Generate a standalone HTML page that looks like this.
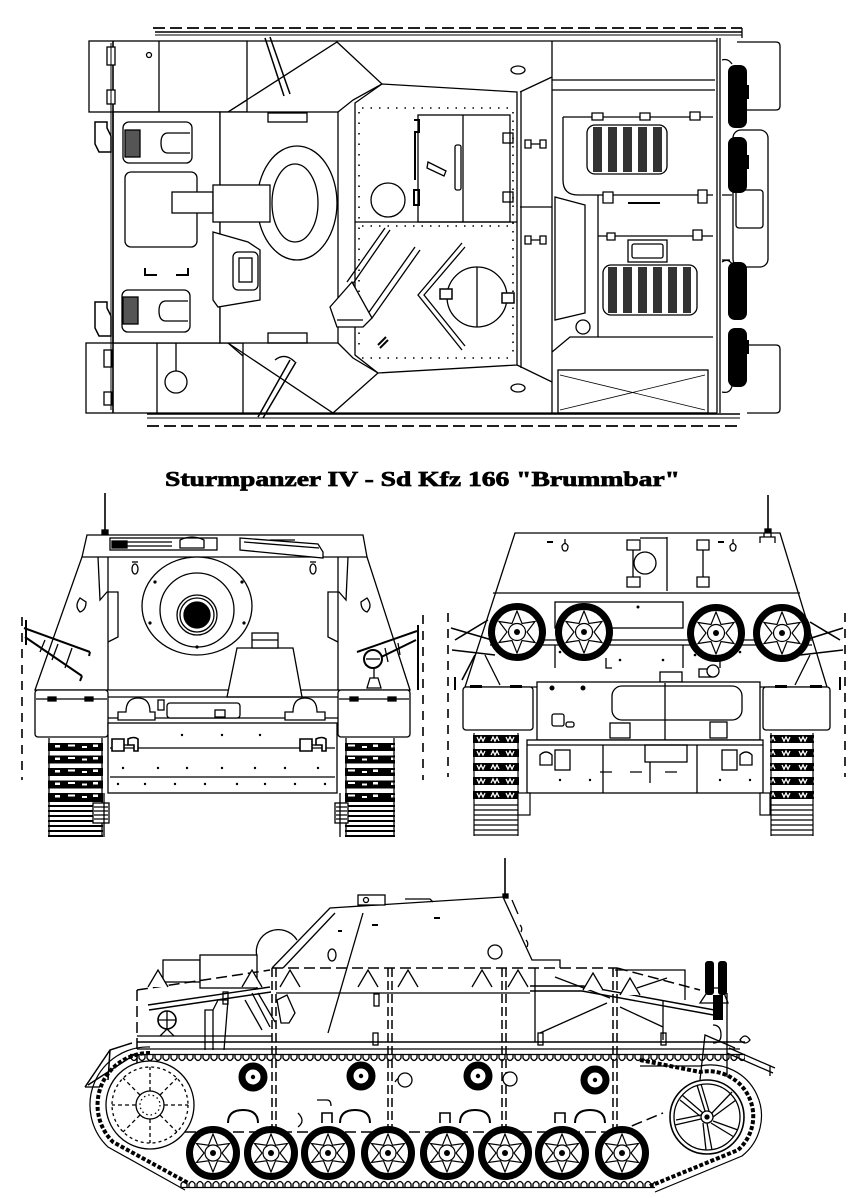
<!DOCTYPE html>
<html><head><meta charset="utf-8"><style>html,body{margin:0;padding:0;background:#fff;width:868px;height:1198px;overflow:hidden}svg{display:block}</style></head><body>
<svg width="868" height="1198" viewBox="0 0 868 1198" xmlns="http://www.w3.org/2000/svg">
<defs>
<g id="rw">
 <circle r="23.5" fill="#fff" stroke="#000" stroke-width="7"/>
 <polygon points="0,-19 4.5,-7.8 16.5,-9.5 9,0 16.5,9.5 4.5,7.8 0,19 -4.5,7.8 -16.5,9.5 -9,0 -16.5,-9.5 -4.5,-7.8" fill="none" stroke="#000" stroke-width="1.2"/>
 <circle r="8" fill="#fff" stroke="#000" stroke-width="1.2"/>
 <circle r="3" fill="#000"/>
</g>
<g id="sw">
 <circle r="25.5" fill="#fff" stroke="#000" stroke-width="7"/>
 <polygon points="0,-21 5,-8.5 18,-10.5 10,0 18,10.5 5,8.5 0,21 -5,8.5 -18,10.5 -10,0 -18,-10.5 -5,-8.5" fill="none" stroke="#000" stroke-width="1.2"/>
 <circle r="8.5" fill="#fff" stroke="#000" stroke-width="1.2"/>
 <circle r="3" fill="#000"/>
</g>
<g id="rr">
 <circle r="11" fill="#fff" stroke="#000" stroke-width="7"/>
 <circle r="2.2" fill="#000"/>
</g>
<pattern id="tt" width="8" height="12" patternUnits="userSpaceOnUse" x="130" y="1053">
 <path d="M0,1.5 H8 M1,1.5 V5 Q4,10 7,5 V1.5" stroke="#000" stroke-width="1.3" fill="none"/>
</pattern>
<pattern id="tb" width="8" height="12" patternUnits="userSpaceOnUse" x="180" y="1177">
 <path d="M0,10.5 H8 M1,10.5 V7 Q4,2 7,7 V10.5" stroke="#000" stroke-width="1.3" fill="none"/>
</pattern>
<pattern id="fth" width="56" height="12.5" patternUnits="userSpaceOnUse" x="48" y="743">
 <rect x="0" y="0" width="56" height="8" fill="#000"/>
 <rect x="7" y="2" width="5" height="2.5" fill="#fff"/>
 <rect x="20" y="1.5" width="7" height="2" fill="#fff"/>
 <rect x="34" y="3" width="5" height="2" fill="#fff"/>
 <rect x="45" y="1.5" width="5" height="2.5" fill="#fff"/>
</pattern>
<pattern id="ftl" width="56" height="5" patternUnits="userSpaceOnUse" x="48" y="800">
 <rect x="0" y="0" width="56" height="2" fill="#000"/>
</pattern>
<pattern id="rth" width="46" height="14" patternUnits="userSpaceOnUse" x="473" y="735">
 <rect x="0" y="0" width="46" height="8" fill="#000"/>
 <path d="M4,2 l2,4 l2,-4 l2,4 l2,-4 M18,6 l2,-4 l2,4 l2,-4 l2,4 M33,2 l2,4 l2,-4 l2,4 l2,-4" stroke="#fff" stroke-width="1.3" fill="none"/>
</pattern>
</defs>

<!-- ================= TOP VIEW ================= -->
<g fill="none" stroke="#000" stroke-width="1.3">
 <line x1="153" y1="28" x2="742" y2="28" stroke-dasharray="12 5" stroke-width="1.8"/>
 <line x1="155" y1="32" x2="742" y2="32" stroke-width="1.4"/>
 <line x1="155" y1="35" x2="742" y2="35" stroke-width="1"/>
 <line x1="742" y1="28" x2="742" y2="38"/>
 <line x1="147" y1="414" x2="740" y2="414" stroke-width="1.4"/>
 <line x1="147" y1="418" x2="740" y2="418" stroke-width="1"/>
 <line x1="147" y1="426" x2="740" y2="426" stroke-dasharray="12 5" stroke-width="1.8"/>
 <rect x="89" y="41" width="158" height="71" fill="#fff"/>
 <line x1="159" y1="41" x2="159" y2="112"/>
 <rect x="86" y="343" width="157" height="70" fill="#fff"/>
 <line x1="157" y1="343" x2="157" y2="413"/>
 <circle cx="149" cy="55" r="2.5"/>
 <line x1="247" y1="41" x2="717" y2="41"/>
 <line x1="243" y1="413" x2="717" y2="413"/>
 <line x1="717" y1="38" x2="717" y2="413"/>
 <line x1="720" y1="38" x2="720" y2="413"/>
 <rect x="113" y="112" width="107" height="231" fill="#fff"/>
 <rect x="220" y="112" width="118" height="231" fill="#fff"/>
 <line x1="113" y1="41" x2="113" y2="413" stroke-width="1.6"/>
 <polyline points="228,112 337,42 382,84 353,100 338,112"/>
 <line x1="247" y1="100" x2="228" y2="112"/>
 <polyline points="228,343 333,413 378,373 353,358 338,343"/>
 <line x1="243" y1="356" x2="228" y2="343"/>
 <polygon points="355,103 382,84 517,92 517,365 378,373 355,355" fill="#fff"/>
 <line x1="355" y1="222" x2="517" y2="222"/>
 <line x1="521" y1="92" x2="521" y2="368"/>
 <line x1="520" y1="92" x2="552" y2="77"/>
 <line x1="520" y1="207" x2="552" y2="207"/>
 <line x1="517" y1="365" x2="552" y2="382"/>
 <line x1="552" y1="41" x2="552" y2="413"/>
 <line x1="362" y1="108" x2="512" y2="108" stroke-dasharray="1.5 7" stroke-width="1.6"/>
 <line x1="362" y1="226" x2="512" y2="226" stroke-dasharray="1.5 7" stroke-width="1.6"/>
 <line x1="362" y1="358" x2="512" y2="358" stroke-dasharray="1.5 7" stroke-width="1.6"/>
 <line x1="513" y1="112" x2="513" y2="355" stroke-dasharray="1.5 7" stroke-width="1.6"/>
 <line x1="359" y1="112" x2="359" y2="350" stroke-dasharray="1.5 9" stroke-width="1.6"/>
 <rect x="418" y="115" width="92" height="107"/>
 <line x1="463" y1="115" x2="463" y2="222"/>
 <rect x="455" y="145" width="6" height="45" rx="2"/>
 <path d="M414,120 h5 v12 h-4 v10 M415,140 v40 M414,190 h5 v15 h-5 z" stroke-width="2"/>
 <rect x="503" y="133" width="10" height="10"/>
 <rect x="503" y="192" width="10" height="10"/>
 <polygon points="428,162 446,171 444,176 427,168"/>
 <circle cx="388" cy="200" r="17"/>
 <circle cx="477" cy="297" r="30"/>
 <line x1="477" y1="267" x2="477" y2="327"/>
 <polyline points="462,243 418,295 462,350" stroke-width="1.3"/>
 <polyline points="465,247 424,295 465,346" stroke-width="1.3"/>
 <rect x="440" y="289" width="12" height="10" fill="#fff" stroke-width="1.5"/>
 <rect x="502" y="293" width="12" height="10" fill="#fff" stroke-width="1.5"/>
 <path d="M385,228 L347,282 M390,230 L352,285 M415,247 L367,315 M420,250 L372,318"/>
 <polygon points="330,307 352,282 372,318 363,327 337,327" fill="#fff"/>
 <line x1="337" y1="320" x2="363" y2="320"/>
 <path d="M378,345 l8,-8 M380,348 l8,-8" stroke-width="2"/>
 <path d="M525,140 h6 v8 h-6z M540,140 h6 v8 h-6z M531,144 h9 M525,236 h6 v8 h-6z M540,236 h6 v8 h-6z M531,240 h9" fill="#fff"/>
 <ellipse cx="518" cy="70" rx="7" ry="4"/>
 <ellipse cx="518" cy="388" rx="7" ry="4"/>
 <rect x="123" y="122" width="69" height="41" rx="6"/>
 <path d="M190,133 h-22 q-7,0 -7,10 q0,10 7,10 h22"/>
 <rect x="125" y="130" width="15" height="27" fill="#555"/>
 <rect x="122" y="290" width="68" height="42" rx="6"/>
 <path d="M188,301 h-22 q-7,0 -7,10 q0,10 7,10 h22"/>
 <rect x="123" y="297" width="15" height="27" fill="#555"/>
 <rect x="125" y="172" width="72" height="75" rx="6"/>
 <path d="M145,268 v7 h12 M176,275 h12 v-7" stroke-width="2"/>
 <ellipse cx="297" cy="203" rx="40" ry="57" fill="#fff"/>
 <ellipse cx="295" cy="203" rx="23" ry="39" fill="#fff"/>
 <rect x="172" y="192" width="41" height="21" fill="#fff"/>
 <rect x="213" y="185" width="57" height="37" fill="#fff"/>
 <polygon points="213,232 248,242 260,250 260,300 218,307 213,300" fill="#fff"/>
 <rect x="233" y="252" width="25" height="38" rx="5"/>
 <rect x="239" y="258" width="13" height="24"/>
 <rect x="268" y="113" width="39" height="9"/>
 <rect x="268" y="333" width="39" height="10"/>
 <path d="M265,38 L284,96 M270,37 L290,94" stroke-width="1.5"/>
 <path d="M258,417 L290,360 M263,418 L296,362" stroke-width="1.5"/>
 <path d="M275,360 q10,-8 20,2" />
 <path d="M95,122 h12 v6 l4,8 v16 h-12 l-4,-8z" fill="#fff" stroke-width="1.5"/>
 <path d="M95,302 h12 v6 l4,8 v20 h-12 l-4,-8z" fill="#fff" stroke-width="1.5"/>
 <rect x="107" y="47" width="8" height="18" fill="#fff"/>
 <rect x="107" y="90" width="8" height="14" fill="#fff"/>
 <rect x="104" y="350" width="8" height="17" fill="#fff"/>
 <rect x="104" y="392" width="8" height="13" fill="#fff"/>
 <line x1="111" y1="43" x2="111" y2="410" stroke-width="1"/>
 <circle cx="176" cy="382" r="11" fill="#fff"/>
 <line x1="176" y1="343" x2="176" y2="371"/>
 <line x1="552" y1="80" x2="715" y2="80"/>
 <line x1="552" y1="90" x2="715" y2="90"/>
 <path d="M563,117 H713 M563,117 V180 Q563,195 578,195 H713"/>
 <line x1="598" y1="195" x2="598" y2="337"/>
 <line x1="598" y1="236" x2="713" y2="236"/>
 <polygon points="555,197 585,205 585,313 555,320"/>
 <path d="M552,352 L570,337 H713"/>
 <rect x="558" y="370" width="150" height="43"/>
 <path d="M560,375 L705,410 M560,410 L705,375" stroke-width="0.8"/>
 <circle cx="583" cy="327" r="7"/>
 <path d="M592,113 h11 v7 h-11z M640,113 h10 v7 h-10z M690,112 h10 v8 h-10z M603,192 h10 v11 h-10z M698,190 h9 v13 h-9z M607,233 h8 v7 h-8z M693,230 h9 v10 h-9z" fill="#fff"/>
 <rect x="628" y="240" width="39" height="22"/>
 <rect x="632" y="244" width="31" height="14" rx="2"/>
 <line x1="628" y1="203" x2="660" y2="203" stroke-width="2"/>
 <rect x="587" y="125" width="80" height="49" rx="8" fill="#fff"/>
 <rect x="603" y="265" width="94" height="50" rx="8" fill="#fff"/>
</g>
<g fill="#333">
 <rect x="593" y="127" width="9" height="45"/><rect x="608" y="127" width="9" height="45"/><rect x="623" y="127" width="9" height="45"/><rect x="638" y="127" width="9" height="45"/><rect x="653" y="127" width="9" height="45"/>
 <rect x="608" y="267" width="9" height="46"/><rect x="623" y="267" width="9" height="46"/><rect x="638" y="267" width="9" height="46"/><rect x="653" y="267" width="9" height="46"/><rect x="668" y="267" width="9" height="46"/><rect x="683" y="267" width="8" height="46"/>
</g>
<g fill="none" stroke="#000" stroke-width="1.3">
 <path d="M737,42 H776 q4,0 4,4 V106 q0,4 -4,4 H737"/>
 <path d="M747,345 H776 q4,0 4,4 V409 q0,4 -4,4 H747"/>
 <rect x="733" y="130" width="35" height="137" rx="8" fill="#fff"/>
 <rect x="736" y="190" width="27" height="38" rx="3"/>
 <path d="M722,60 q6,-2 10,4 M722,262 q6,-4 10,2 M722,392 q8,2 10,-6 M722,195 h10 M722,260 h8"/>
</g>
<g fill="#000">
 <rect x="728" y="65" width="19" height="63" rx="7"/>
 <rect x="728" y="137" width="19" height="56" rx="7"/>
 <rect x="728" y="262" width="19" height="58" rx="7"/>
 <rect x="728" y="328" width="19" height="59" rx="7"/>
 <rect x="745" y="85" width="4" height="14"/>
 <rect x="745" y="155" width="4" height="14"/>
 <rect x="745" y="340" width="4" height="14"/>
</g>

<!-- ================= TITLE ================= -->
<text x="165" y="486" font-family="'Liberation Serif', serif" font-weight="bold" font-size="21" textLength="515" lengthAdjust="spacingAndGlyphs" fill="#000" stroke="#000" stroke-width="0.7">Sturmpanzer  IV - Sd Kfz 166 "Brummbar"</text>

<!-- ================= FRONT VIEW ================= -->
<g fill="none" stroke="#000" stroke-width="1.3">
 <line x1="105" y1="493" x2="105" y2="533" stroke-width="1.6"/>
 <rect x="102" y="530" width="6" height="5" fill="#000"/>
 <polygon points="87,535 363,535 367,557 410,690 35,690 82,557" fill="#fff"/>
 <line x1="82" y1="557" x2="367" y2="557"/>
 <line x1="108" y1="557" x2="108" y2="690"/>
 <line x1="338" y1="557" x2="338" y2="690"/>
 <polyline points="98,557 100,600 107,592 118,592 118,637 108,642"/>
 <polyline points="348,557 346,600 339,592 328,592 328,637 338,642"/>
 <rect x="110" y="538" width="107" height="12" fill="#fff"/>
 <path d="M112,542 h60 M112,546 h60 M180,540 q12,-6 24,0 v8 h-24z" />
 <rect x="112" y="541" width="15" height="7" fill="#000"/>
 <polygon points="240,538 318,544 323,552 323,558 240,550" fill="#fff"/>
 <path d="M244,542 l75,6 M270,540 h25"/>
 <path d="M80,598 q-6,8 0,14 q6,-2 6,-10z"/>
 <path d="M367,598 q6,8 0,14 q-6,-2 -6,-10z"/>
 <ellipse cx="135" cy="569" rx="3" ry="5"/>
 <ellipse cx="313" cy="569" rx="3" ry="5"/>
 <line x1="132" y1="562" x2="138" y2="562"/>
 <line x1="310" y1="562" x2="316" y2="562"/>
 <ellipse cx="197" cy="606" rx="55" ry="49" fill="#fff"/>
 <circle cx="197" cy="610" r="37" fill="#fff"/>
 <circle cx="197" cy="615" r="20" fill="#fff"/>
 <circle cx="197" cy="615" r="17" fill="#fff"/>
 <circle cx="197" cy="615" r="13" fill="#000"/>
 <polygon points="237,648 293,648 302,697 227,697" fill="#fff"/>
 <rect x="252" y="633" width="26" height="15" fill="#fff"/>
 <line x1="252" y1="640" x2="278" y2="640"/>
 <rect x="35" y="690" width="73" height="47" rx="3" fill="#fff"/>
 <rect x="338" y="690" width="72" height="47" rx="3" fill="#fff"/>
 <line x1="108" y1="697" x2="338" y2="697"/>
 <line x1="108" y1="718" x2="338" y2="718"/>
 <rect x="108" y="723" width="229" height="70" fill="#fff"/>
 <line x1="110" y1="748" x2="335" y2="748"/>
 <line x1="110" y1="777" x2="335" y2="777"/>
 <line x1="36" y1="699" x2="107" y2="699"/>
 <line x1="339" y1="699" x2="409" y2="699"/>
 <path d="M48,697 h8 v4 h-8z M85,697 h8 v4 h-8z M350,697 h8 v4 h-8z M388,697 h8 v4 h-8z" fill="#000"/>
 <path d="M118,712 h8 q0,-14 12,-14 q12,0 12,14 h5 v8 h-37z" fill="#fff"/>
 <path d="M285,712 h8 q0,-14 12,-14 q12,0 12,14 h8 v8 h-40z" fill="#fff"/>
 <rect x="167" y="703" width="73" height="15" rx="3" fill="#fff"/>
 <rect x="158" y="700" width="6" height="10"/>
 <rect x="215" y="710" width="10" height="7" fill="#fff"/>
 <path d="M112,739 h12 v12 h-12z M128,739 q6,-3 10,0 v12 h-4 v-6 h-6z" fill="#fff" stroke-width="1.6"/>
 <path d="M300,739 h12 v12 h-12z M316,739 q6,-3 10,0 v12 h-4 v-6 h-6z" fill="#fff" stroke-width="1.6"/>
 <line x1="124" y1="745" x2="128" y2="745"/>
 <line x1="312" y1="745" x2="316" y2="745"/>
 <path d="M24,628 L90,652 M25,637 L82,676 M82,676 l-2,5 M90,652 l-1,4" stroke-width="2"/>
 <path d="M45,640 l-5,12 M58,644 l-6,16 M72,648 l-7,20"/>
 <line x1="26" y1="620" x2="26" y2="645" stroke-width="2"/>
 <path d="M357,652 L417,631 M365,665 L416,640" stroke-width="2"/>
 <path d="M385,648 l3,14 M398,643 l2,12"/>
 <circle cx="373" cy="659" r="9" fill="#fff" stroke-width="2"/>
 <line x1="366" y1="659" x2="380" y2="659"/>
 <path d="M370,678 h8 l3,10 h-14z" fill="#fff"/>
 <line x1="374" y1="668" x2="374" y2="678"/>
 <line x1="418" y1="625" x2="418" y2="690" stroke-width="2"/>
 <line x1="22" y1="617" x2="22" y2="780" stroke-dasharray="9 7" stroke-width="1.6"/>
 <line x1="423" y1="615" x2="423" y2="780" stroke-dasharray="9 7" stroke-width="1.6"/>
</g>
<g fill="#000">
 <circle cx="155" cy="582" r="1.6"/><circle cx="242" cy="582" r="1.6"/><circle cx="150" cy="623" r="1.6"/><circle cx="244" cy="623" r="1.6"/><circle cx="197" cy="647" r="1.6"/>
 <circle cx="182" cy="735" r="1.2"/><circle cx="222" cy="735" r="1.2"/><circle cx="260" cy="735" r="1.2"/>
 <circle cx="123" cy="768" r="1.2"/><circle cx="158" cy="768" r="1.2"/><circle cx="187" cy="768" r="1.2"/><circle cx="222" cy="768" r="1.2"/><circle cx="255" cy="768" r="1.2"/><circle cx="285" cy="768" r="1.2"/><circle cx="318" cy="768" r="1.2"/>
 <circle cx="118" cy="784" r="1.2"/><circle cx="145" cy="784" r="1.2"/><circle cx="175" cy="784" r="1.2"/><circle cx="205" cy="784" r="1.2"/><circle cx="237" cy="784" r="1.2"/><circle cx="265" cy="784" r="1.2"/><circle cx="295" cy="784" r="1.2"/><circle cx="325" cy="784" r="1.2"/>
</g>
<rect x="48" y="743" width="55" height="57" fill="url(#fth)"/>
<rect x="48" y="800" width="55" height="37" fill="url(#ftl)"/>
<rect x="345" y="743" width="50" height="57" fill="url(#fth)"/>
<rect x="345" y="800" width="50" height="37" fill="url(#ftl)"/>
<g fill="none" stroke="#000" stroke-width="1.3">
 <line x1="49" y1="738" x2="49" y2="837"/><line x1="102" y1="738" x2="102" y2="837"/>
 <line x1="346" y1="738" x2="346" y2="837"/><line x1="394" y1="738" x2="394" y2="837"/>
 <rect x="93" y="803" width="16" height="20" fill="#fff"/>
 <path d="M94,807 h14 M94,811 h14 M94,815 h14 M94,819 h14"/>
 <rect x="335" y="803" width="13" height="20" fill="#fff"/>
 <path d="M336,807 h11 M336,811 h11 M336,815 h11 M336,819 h11"/>
 <line x1="104" y1="793" x2="104" y2="837"/>
 <line x1="340" y1="793" x2="340" y2="837"/>
</g>

<!-- ================= REAR VIEW ================= -->
<g fill="none" stroke="#000" stroke-width="1.3">
 <line x1="768" y1="495" x2="768" y2="532" stroke-width="1.6"/>
 <rect x="765" y="529" width="6" height="5" fill="#000"/>
 <polygon points="515,533 780,533 827,687 465,687" fill="#fff"/>
 <line x1="493" y1="593" x2="800" y2="593"/>
 <line x1="667" y1="537" x2="667" y2="591"/>
 <circle cx="645" cy="563" r="11"/>
 <path d="M627,540 h13 v10 h-13z M627,577 h13 v10 h-13z M697,540 h12 v10 h-12z M697,577 h12 v10 h-12z" fill="#fff"/>
 <line x1="633" y1="550" x2="633" y2="577"/><line x1="703" y1="550" x2="703" y2="577"/>
 <line x1="640" y1="538" x2="667" y2="538"/>
 <path d="M565,539 v4 M562,546 q3,-5 6,0 q0,5 -3,5 q-3,0 -3,-5z M733,539 v4 M730,546 q3,-5 6,0 q0,5 -3,5 q-3,0 -3,-5z"/>
 <path d="M553,542 h-6 M718,542 h6" stroke-width="2"/>
 <path d="M760,543 v-6 h15 v6 M764,537 v-4 M771,537 v-4" />
 <rect x="555" y="602" width="128" height="26"/>
 <line x1="490" y1="640" x2="812" y2="640"/>
 <line x1="490" y1="645" x2="812" y2="645"/>
 <path d="M555,645 v23 M683,645 v23 M612,668 h-6 v-10 M720,668 v-10"/>
 <rect x="699" y="669" width="14" height="8"/>
 <circle cx="713" cy="671" r="6" fill="#fff"/>
 <rect x="660" y="672" width="22" height="10"/>
 <path d="M485,655 L500,685 M810,655 L795,685"/>
 <rect x="463" y="687" width="70" height="43" rx="3" fill="#fff"/>
 <rect x="763" y="687" width="67" height="43" rx="3" fill="#fff"/>
 <rect x="537" y="682" width="223" height="58" fill="#fff"/>
 <rect x="612" y="686" width="130" height="34" rx="10" fill="#fff"/>
 <line x1="665" y1="683" x2="665" y2="740"/>
 <rect x="610" y="723" width="20" height="15" fill="#fff"/>
 <rect x="710" y="722" width="17" height="16" fill="#fff"/>
 <rect x="552" y="714" width="12" height="12" rx="2" fill="#fff"/>
 <rect x="566" y="722" width="8" height="5" rx="2"/>
 <rect x="527" y="740" width="236" height="53" fill="#fff"/>
 <line x1="527" y1="745" x2="763" y2="745"/>
 <line x1="603" y1="745" x2="603" y2="793"/>
 <line x1="697" y1="745" x2="697" y2="793"/>
 <rect x="645" y="745" width="42" height="17"/>
 <line x1="650" y1="762" x2="650" y2="783"/>
 <path d="M600,772 h12 M630,772 h12 M665,772 h12"/>
 <rect x="555" y="750" width="15" height="20" fill="#fff"/>
 <rect x="722" y="750" width="15" height="20" fill="#fff"/>
 <path d="M540,755 q6,-6 12,0 v10 h-12z M740,755 q6,-6 12,0 v10 h-12z"/>
 <path d="M451,628 L492,640 M455,640 L488,620 M452,650 L495,655" stroke-width="1.6"/>
 <path d="M843,628 L805,640 M840,640 L810,622 M843,650 L800,655" stroke-width="1.6"/>
 <line x1="475" y1="655" x2="462" y2="680" stroke-width="1.6"/>
 <line x1="448" y1="613" x2="448" y2="777" stroke-dasharray="9 7" stroke-width="1.6"/>
 <line x1="845" y1="613" x2="845" y2="777" stroke-dasharray="9 7" stroke-width="1.6"/>
 <line x1="455" y1="677" x2="455" y2="690" stroke-width="2"/>
 <line x1="840" y1="677" x2="840" y2="690" stroke-width="2"/>
</g>
<g fill="#000">
 <circle cx="638" cy="607" r="1.5"/><circle cx="560" cy="652" r="1.3"/><circle cx="600" cy="652" r="1.3"/><circle cx="740" cy="652" r="1.3"/><circle cx="620" cy="660" r="1.3"/><circle cx="663" cy="660" r="1.3"/><circle cx="695" cy="655" r="1.3"/>
 <circle cx="552" cy="688" r="2.5"/><circle cx="583" cy="688" r="2.5"/>
 <circle cx="560" cy="780" r="1.2"/><circle cx="590" cy="780" r="1.2"/><circle cx="720" cy="780" r="1.2"/><circle cx="750" cy="780" r="1.2"/>
 <rect x="470" y="685" width="12" height="3"/><rect x="510" y="685" width="12" height="3"/><rect x="775" y="685" width="12" height="3"/><rect x="810" y="685" width="12" height="3"/>
</g>
<use href="#sw" x="517" y="632"/>
<use href="#sw" x="584" y="632"/>
<use href="#sw" x="716" y="633"/>
<use href="#sw" x="782" y="633"/>
<rect x="473" y="735" width="46" height="65" fill="url(#rth)"/>
<rect x="770" y="735" width="44" height="65" fill="url(#rth)"/>
<g fill="none" stroke="#000" stroke-width="1.2">
 <path d="M474,805 h44 M474,810 h44 M474,815 h44 M474,820 h44 M474,825 h44 M474,830 h44 M474,835 h44"/>
 <path d="M771,805 h42 M771,810 h42 M771,815 h42 M771,820 h42 M771,825 h42 M771,830 h42 M771,835 h42"/>
 <line x1="474" y1="733" x2="474" y2="836"/><line x1="518" y1="733" x2="518" y2="836"/>
 <line x1="771" y1="733" x2="771" y2="836"/><line x1="813" y1="733" x2="813" y2="836"/>
 <rect x="518" y="793" width="12" height="22" fill="#fff"/>
 <rect x="760" y="793" width="10" height="22" fill="#fff"/>
</g>

<!-- ================= SIDE VIEW ================= -->
<g fill="none" stroke="#000" stroke-width="1.3">
 <line x1="505" y1="858" x2="505" y2="897" stroke-width="1.6"/>
 <rect x="503" y="894" width="5" height="4" fill="#000"/>
 <path d="M272,968 L330,908 L503,897 L532,960 H560 V968" fill="#fff"/>
 <line x1="283" y1="968" x2="335" y2="913"/>
 <line x1="363" y1="913" x2="328" y2="1033"/>
 <rect x="358" y="895" width="27" height="10" fill="#fff"/>
 <circle cx="366" cy="900" r="2.5"/>
 <path d="M405,899 h25 l3,3" />
 <ellipse cx="332" cy="955" rx="4" ry="6"/>
 <line x1="338" y1="931" x2="342" y2="931" stroke-width="2"/>
 <line x1="372" y1="925" x2="378" y2="925" stroke-width="2"/>
 <line x1="434" y1="918" x2="440" y2="918" stroke-width="2"/>
 <path d="M512,900 l6,14 M520,925 q3,3 1,7 M526,940 q3,3 1,7"/>
 <circle cx="495" cy="952" r="7"/>
 <path d="M257,957 A22,22 0 0 1 297,940" fill="#fff"/>
 <rect x="163" y="960" width="37" height="22" fill="#fff"/>
 <rect x="200" y="955" width="57" height="33" fill="#fff"/>
 <line x1="272" y1="968" x2="617" y2="968" stroke-dasharray="11 5" stroke-width="1.5"/>
 <line x1="617" y1="968" x2="700" y2="990" stroke-dasharray="11 5" stroke-width="1.5"/>
 <line x1="137" y1="990" x2="270" y2="970" stroke-dasharray="11 5" stroke-width="1.5"/>
 <line x1="137" y1="990" x2="137" y2="1130" stroke-dasharray="11 5" stroke-width="1.5"/>
 <line x1="137" y1="1132" x2="617" y2="1132" stroke-dasharray="11 5" stroke-width="1.5"/>
 <line x1="617" y1="1132" x2="663" y2="1113" stroke-dasharray="11 5" stroke-width="1.5"/>
 <g stroke-dasharray="9 4" stroke-width="1.5">
  <line x1="272" y1="968" x2="272" y2="1133"/><line x1="276" y1="968" x2="276" y2="1133"/>
  <line x1="388" y1="968" x2="388" y2="1133"/><line x1="392" y1="968" x2="392" y2="1133"/>
  <line x1="502" y1="968" x2="502" y2="1133"/><line x1="506" y1="968" x2="506" y2="1133"/>
  <line x1="613" y1="968" x2="613" y2="1133"/><line x1="617" y1="968" x2="617" y2="1133"/>
 </g>
 <line x1="276" y1="993" x2="530" y2="993"/>
 <line x1="137" y1="1042" x2="745" y2="1042" stroke-width="1.5"/>
 <line x1="137" y1="1049" x2="740" y2="1049"/>
 <line x1="137" y1="1036" x2="272" y2="1036"/>
 <path d="M530,986 H583 L720,1011 M530,991 H582 L719,1016" stroke-width="1.4"/>
 <path d="M148,1005 L270,987 M149,1010 L271,992" stroke-width="1.4"/>
 <path d="M535,968 V1042 M615,970 H685 V1000 M540,1033 L607,1003 M555,977 L610,998 M620,1007 L663,1027 M637,988 L667,978 M663,1000 V1040"/>
 <path d="M148,987 l10,-17 l10,17 M242,987 l10,-17 l10,17 M280,987 l10,-17 l10,17 M358,987 l10,-17 l10,17 M398,987 l10,-17 l10,17 M472,987 l10,-17 l10,17 M508,987 l10,-17 l10,17 M583,990 l10,-17 l10,17 M620,995 l10,-17 l10,17" fill="#fff"/>
 <rect x="373" y="1033" width="5" height="12"/>
 <rect x="538" y="1033" width="5" height="12"/>
 <rect x="661" y="1033" width="5" height="12"/>
 <rect x="374" y="994" width="5" height="12"/>
 <rect x="223" y="992" width="5" height="12"/>
 <path d="M205,1050 V1010 h8 V1050 M213,1010 l5,-10 h10 l-4,50" />
 <path d="M252,993 L270,1027 M258,993 L275,1022 M245,1000 L262,1030"/>
 <path d="M277,1000 l10,-5 l8,18 l-6,10 h-8z" fill="#fff"/>
 <circle cx="167" cy="1020" r="9" fill="#fff" stroke-width="1.6"/>
 <path d="M158,1020 h18 M167,1011 v18"/>
 <path d="M160,1036 l7,-7 l7,7"/>
 <path d="M700,1003 l10,-15 h12 l6,15z" fill="#fff"/>
 <path d="M727,993 V1077 M740,1040 q5,-8 10,0 q-5,6 -10,0z M727,1053 L773,1073 M729,1048 L775,1068 M770,1066 v10" />
 <path d="M713,1025 q8,0 8,10 q0,8 -8,8"/>
 <path d="M735,1048 L705,1035 L700,1080"/>
 <path d="M85,1087 L110,1050 L132,1043 M88,1085 L137,1053 M110,1050 L108,1080" stroke-width="1.5"/>
 <path d="M85,1087 h15" />
 <path d="M228,1123 q0,-13 15,-13 q15,0 15,13 M340,1123 q0,-13 15,-13 q15,0 15,13 M460,1123 q0,-13 15,-13 q15,0 15,13 M575,1123 q0,-13 15,-13 q15,0 15,13" stroke-width="2"/>
 <path d="M322,1123 v-10 h10 v10 M440,1123 v-10 h10 v10 M555,1123 v-10 h10 v10" stroke-width="1.6"/>
 <path d="M298,1113 q8,8 0,14 M317,1100 h10 q4,0 4,6"/>
 <path d="M395,1082 q5,-8 10,-2 M400,1078 v6"/>
 <circle cx="405" cy="1080" r="7" fill="#fff"/>
 <circle cx="510" cy="1079" r="7" fill="#fff"/>
 <circle cx="150" cy="1105" r="44" fill="#fff"/>
 <circle cx="150" cy="1105" r="38" stroke-dasharray="3 3"/>
 <circle cx="150" cy="1105" r="14"/>
 <circle cx="150" cy="1105" r="10" stroke-dasharray="1.5 3"/>
 <path d="M150,1091 V1067 M150,1119 V1143 M136,1105 H112 M164,1105 H188 M140,1095 L123,1078 M160,1115 L177,1132 M160,1095 L177,1078 M140,1115 L123,1132" stroke-dasharray="4 3"/>
 <path d="M150,1053 A52,52 0 0 0 113,1142 L190,1184" stroke-width="4" stroke-dasharray="4 2"/>
 <path d="M150,1047 A58,58 0 0 0 108,1147 L185,1190" stroke-width="1.2"/>
 <circle cx="707" cy="1117" r="37" fill="#fff" stroke-width="1.6"/>
 <circle cx="707" cy="1117" r="33"/>
 <circle cx="707" cy="1117" r="6"/>
 <circle cx="707" cy="1117" r="2" fill="#000"/>
 <path d="M705,1111 L697,1085 M709,1111 L701,1084 M712,1113 L732,1092 M713,1117 L736,1100 M713,1121 L738,1130 M711,1123 L734,1137 M707,1123 L712,1150 M703,1123 L706,1150 M701,1119 L675,1125 M701,1115 L676,1120 M703,1113 L682,1095 M700,1116 L680,1100"/>
 <path d="M640,1060 L700,1072 A45,45 0 0 1 738,1150 L650,1186" stroke-width="4" stroke-dasharray="4 2"/>
 <path d="M640,1066 L700,1066 A51,51 0 0 1 742,1156 L655,1192" stroke-width="1.2"/>
</g>
<rect x="130" y="1053" width="615" height="12" fill="url(#tt)"/>
<rect x="180" y="1177" width="475" height="12" fill="url(#tb)"/>
<g fill="#000">
 <rect x="705" y="961" width="9" height="34" rx="3"/>
 <rect x="718" y="961" width="9" height="34" rx="3"/>
 <rect x="713" y="995" width="10" height="25"/>
</g>
<use href="#rr" x="253" y="1077"/>
<use href="#rr" x="361" y="1076"/>
<use href="#rr" x="478" y="1076"/>
<use href="#rr" x="595" y="1080"/>
<use href="#rw" x="213" y="1153"/>
<use href="#rw" x="271" y="1153"/>
<use href="#rw" x="328" y="1153"/>
<use href="#rw" x="388" y="1153"/>
<use href="#rw" x="447" y="1153"/>
<use href="#rw" x="505" y="1153"/>
<use href="#rw" x="562" y="1153"/>
<use href="#rw" x="622" y="1153"/>
</svg>
</body></html>
